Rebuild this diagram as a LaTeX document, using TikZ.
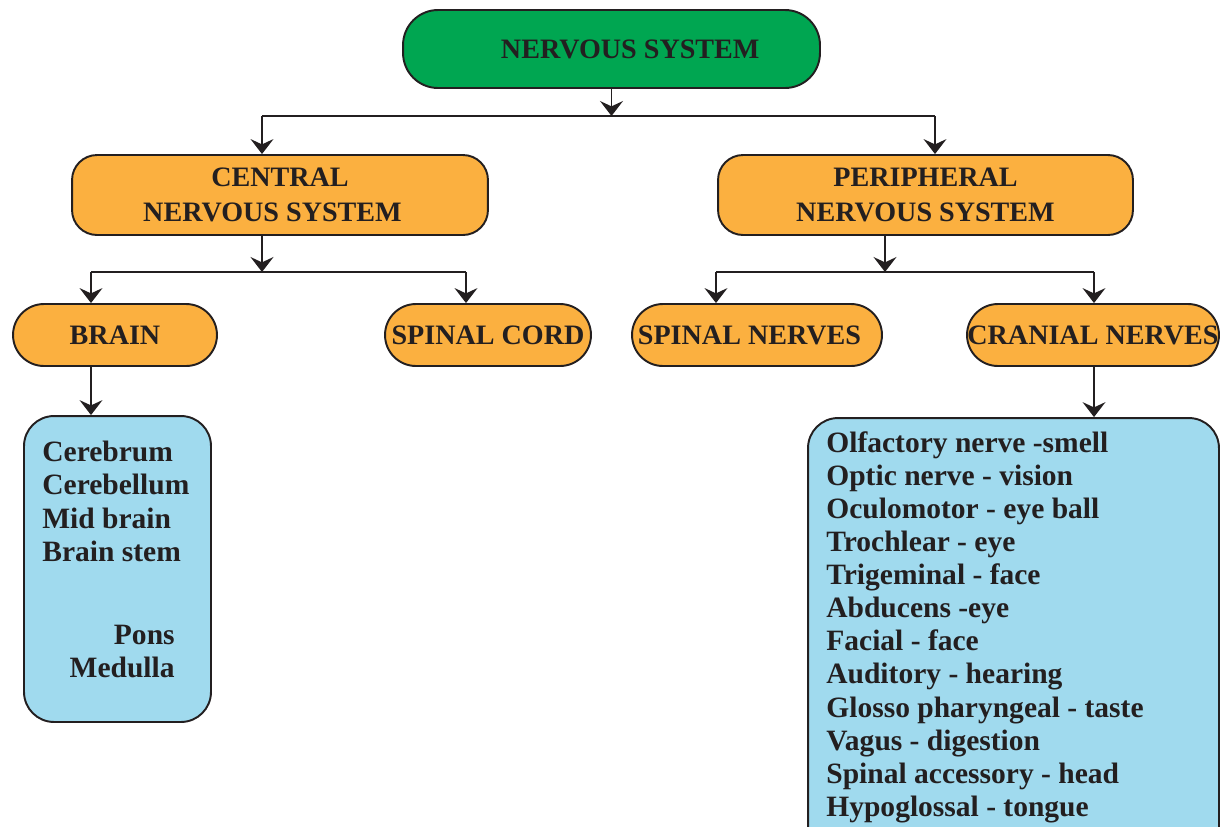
\documentclass[tikz,border=0pt]{standalone}
\usepackage{fontspec}
\setmainfont{Liberation Serif}
\usetikzlibrary{arrows.meta}
\definecolor{nervgreen}{HTML}{00A651}
\definecolor{nervorange}{HTML}{FBB040}
\definecolor{nervblue}{HTML}{A0DAEE}
\definecolor{nervline}{HTML}{231F20}
\tikzset{
  box/.style={draw=nervline, line width=1.1pt, text=nervline, align=center, inner sep=0pt,
    font=\bfseries\fontsize{16}{19.5}\selectfont},
  listbox/.style={draw=nervline, line width=1.1pt, fill=nervblue, rounded corners=0.6cm, inner sep=0pt},
  listtext/.style={text=nervline, align=left, inner sep=0pt,
    font=\bfseries\fontsize{16.8}{18.85}\selectfont},
  link/.style={draw=nervline, line width=1.1pt},
  arr/.style={link, -{Stealth[length=8.5pt,width=13pt,inset=3pt]}},
}
\begin{document}
\begin{tikzpicture}[x=0.02cm,y=-0.02cm]
\useasboundingbox (0,0) rectangle (1224,826);

% boxes
\node[box, fill=nervgreen, rounded corners=0.7cm, minimum width=8.34cm, minimum height=1.56cm] (nerv) at (611.5,49) {\hspace*{0.75cm}NERVOUS SYSTEM};
\node[box, fill=nervorange, rounded corners=0.5cm, minimum width=8.32cm, minimum height=1.6cm] (cns) at (280,195) {CENTRAL\\NERVOUS SYSTEM\hspace*{0.3cm}};
\node[box, fill=nervorange, rounded corners=0.5cm, minimum width=8.3cm, minimum height=1.6cm] (pns) at (925.5,195) {PERIPHERAL\\NERVOUS SYSTEM};
\node[box, fill=nervorange, rounded corners=0.62cm, minimum width=4.08cm, minimum height=1.24cm] (brain) at (115,335) {BRAIN};
\node[box, fill=nervorange, rounded corners=0.62cm, minimum width=4.12cm, minimum height=1.24cm] (cord) at (488,335) {SPINAL CORD};
\node[box, fill=nervorange, rounded corners=0.62cm, minimum width=5cm, minimum height=1.24cm] (snerves) at (757,335) {SPINAL NERVES\hspace*{0.3cm}};
\node[box, fill=nervorange, rounded corners=0.62cm, minimum width=5.04cm, minimum height=1.24cm] (cnerves) at (1093,335) {CRANIAL NERVES};
\node[listbox, minimum width=3.74cm, minimum height=6.12cm] (brainlist) at (117.5,569) {};
\node[listbox, minimum width=8.22cm, minimum height=8.84cm] (cranlist) at (1013.5,639) {};

% list texts
\node[listtext, anchor=north west] (brainparts) at (42,441) {Cerebrum\\Cerebellum\\Mid brain\\Brain stem};
\node[listtext, anchor=north east, align=right] (stemparts) at (175,625) {Pons\\Medulla};
\node[listtext, anchor=north west] (cranparts) at (826,431) {Olfactory nerve -smell\\Optic nerve - vision\\Oculomotor - eye ball\\Trochlear - eye\\Trigeminal - face\\Abducens -eye\\Facial - face\\Auditory - hearing\\Glosso pharyngeal - taste\\Vagus - digestion\\Spinal accessory - head\\Hypoglossal - tongue};

% connectors
\coordinate (bar1l) at (262,116);
\coordinate (bar1r) at (935,116);
\coordinate (bar2l) at (91,272);
\coordinate (bar2r) at (466,272);
\coordinate (bar3l) at (716,272);
\coordinate (bar3r) at (1094,272);
\coordinate (cdrop) at (262,272);
\coordinate (pdrop) at (885,272);

\draw[link] (bar1l) -- (bar1r);
\draw[link] (bar2l) -- (bar2r);
\draw[link] (bar3l) -- (bar3r);
\draw[arr] (nerv.south) -- (nerv.south |- bar1l);
\draw[arr] (bar1l) -- (bar1l |- cns.north);
\draw[arr] (bar1r) -- (bar1r |- pns.north);
\draw[arr] (cdrop |- cns.south) -- (cdrop);
\draw[arr] (pdrop |- pns.south) -- (pdrop);
\draw[arr] (bar2l) -- (bar2l |- brain.north);
\draw[arr] (bar2r) -- (bar2r |- cord.north);
\draw[arr] (bar3l) -- (bar3l |- snerves.north);
\draw[arr] (bar3r) -- (bar3r |- cnerves.north);
\draw[arr] (bar2l |- brain.south) -- (bar2l |- brainlist.north);
\draw[arr] (bar3r |- cnerves.south) -- (bar3r |- cranlist.north);
\end{tikzpicture}
\end{document}
